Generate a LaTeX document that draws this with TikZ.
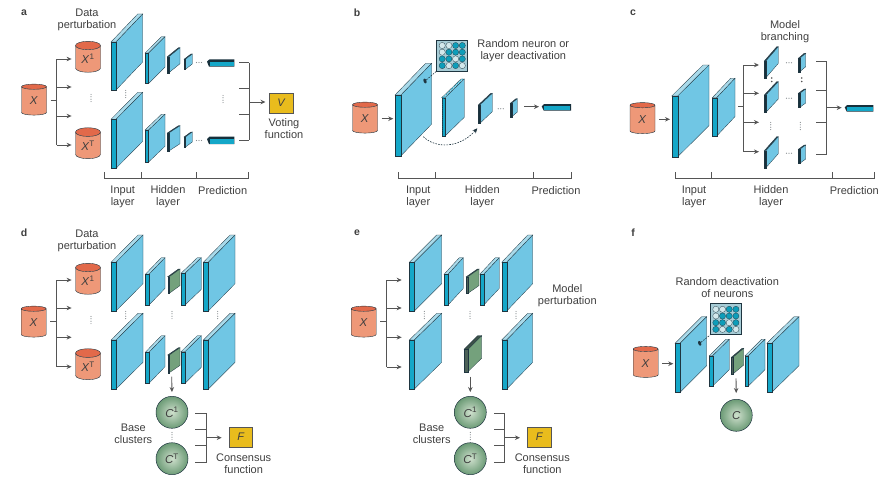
\documentclass[tikz,border=0pt]{standalone}
\usepackage{fontspec}
\setmainfont{Liberation Sans}
\usepackage{xcolor}
\usetikzlibrary{arrows.meta,calc,shapes.geometric}

\definecolor{textgrey}{HTML}{3F3F3F}
\definecolor{linegrey}{HTML}{555555}
\definecolor{dotgrey}{HTML}{8A8F92}
\definecolor{edgeink}{HTML}{1F3540}
\definecolor{blueface}{HTML}{70C6E4}
\definecolor{bluestrip}{HTML}{14A7C8}
\definecolor{bluetop}{HTML}{A9DAEA}
\definecolor{darkface}{HTML}{70C6E4}
\definecolor{darkstrip}{HTML}{16303C}
\definecolor{darktop}{HTML}{26414E}
\definecolor{greenface}{HTML}{74A17C}
\definecolor{greenstrip}{HTML}{4C6157}
\definecolor{greentop}{HTML}{3C5148}
\definecolor{clustpale}{HTML}{CFE0CD}
\definecolor{clustedge}{HTML}{6C9B76}
\definecolor{cylbody}{HTML}{EE9878}
\definecolor{cyltop}{HTML}{E2694A}
\definecolor{boxyellow}{HTML}{E9BC1D}
\definecolor{patchbg}{HTML}{A6CCD6}
\definecolor{patchpale}{HTML}{D3E8EC}
\definecolor{patchdark}{HTML}{0E9DB9}

% colour, x, y, right x, right y, height, strip width
\newcommand{\cnnlayer}[7][blue]{%
	\filldraw[layeredge, fill=#1top] (#2,#3) -- ({#4-#7},#5) -- (#4,#5) -- ({#2+#7},#3) -- cycle;
	\filldraw[layeredge, fill=#1face] ({#2+#7},#3) -- (#4,#5) -- (#4,{#5+#6}) -- ({#2+#7},{#3+#6}) -- cycle;
	\filldraw[layeredge, fill=#1strip] (#2,#3) -- ({#2+#7},#3) -- ({#2+#7},{#3+#6}) -- (#2,{#3+#6}) -- cycle;
}
\newcommand{\predbar}[4]{%
	\fill[darkstrip] (#1,{#2+2.3}) -- ({#1+2.5},#2) -- ({#1+#3},#2) -- ({#1+#3},{#2+#4}) -- ({#1+2},{#2+#4}) -- cycle;
	\fill[bluestrip] ({#1+2.5},{#2+2.2}) rectangle ({#1+#3-.6},{#2+#4-.6});
}
\newcommand{\hellip}[2]{%
	\foreach \dx in {-2.5,0,2.5} \fill[dotgrey] ({#1+\dx},#2) circle (.6);
}
\newcommand{\vellip}[2]{%
	\foreach \dy in {-3.6,-1.2,1.2,3.6} \fill[dotgrey] (#1,{#2+\dy}) circle (.6);
}
\newcommand{\bracketline}[4]{%
	\draw[conn] (#1,172) -- (#1,178.3) -- (#4,178.3) -- (#4,172);
	\draw[conn] (#2,172) -- (#2,178.3) (#3,172) -- (#3,178.3);
}
% prefix, source, bus x, stub y, four y, tip x
\newcommand{\fantree}[9]{%
	\coordinate (#1-j) at (#3,#4);
	\draw[conn, shorten <=4pt] (#2.east |- #1-j) -- (#1-j);
	\draw[conn] (#3,#5) -- (#3,#8);
	\foreach \n/\yy in {1/#5,2/#6,3/#7,4/#8} {
		\coordinate (#1-s\n) at (#3,\yy);
		\coordinate (#1-t\n) at (#9,\yy);
		\draw[conn, ->] (#1-s\n) -- (#1-t\n);
	}
}
% prefix, stub x, bus x, four y, out y, tip coordinate
\newcommand{\mergetree}[9]{%
	\foreach \n/\yy in {1/#4,2/#5,3/#6,4/#7} {
		\coordinate (#1-s\n) at (#2,\yy);
		\coordinate (#1-v\n) at (#3,\yy);
		\draw[conn] (#1-s\n) -- (#1-v\n);
	}
	\draw[conn] (#1-v1) -- (#1-v4);
	\coordinate (#1-j) at (#3,#8);
	\draw[conn, ->] (#1-j) -- (#9);
}
\newcommand{\neuronpatch}[3]{%
	\node[patch] (#1) at (#2,#3) {};
	\foreach \col/\row/\clr in {0/0/patchpale,1/0/patchpale,2/0/patchdark,3/0/patchdark,
		0/1/patchpale,1/1/patchdark,2/1/patchdark,3/1/patchdark,
		0/2/patchdark,1/2/patchdark,2/2/patchpale,3/2/patchdark,
		0/3/patchdark,1/3/patchpale,2/3/patchdark,3/3/patchpale} {
		\filldraw[draw=edgeink, line width=.25pt, fill=\clr] ({#2-10+6.7*\col},{#3-10+6.7*\row}) circle (3.1);
	}
}

\begin{document}
\begin{tikzpicture}[x=1pt, y=-1pt, >={Stealth[length=5pt,width=4.5pt]}]
	\tikzstyle{lbl}=[font=\fontsize{11}{12}\selectfont, align=center, text=textgrey, inner sep=0pt]
	\tikzstyle{tag}=[font=\fontsize{10.5}{12}\selectfont\bfseries, text=textgrey, inner sep=0pt]
	\tikzstyle{conn}=[draw=linegrey, line width=.9pt]
	\tikzstyle{layeredge}=[draw=edgeink, line width=.3pt]
	\tikzstyle{cyl}=[cylinder, shape border rotate=90, aspect=.65, minimum width=25pt, minimum height=31pt, inner sep=0pt,
		draw=edgeink, line width=.4pt, cylinder uses custom fill, cylinder body fill=cylbody, cylinder end fill=cyltop,
		font=\fontsize{11.5}{12}\selectfont, text=textgrey]
	\tikzstyle{clust}=[circle, minimum size=32pt, inner sep=0pt, draw=edgeink, line width=.5pt,
		inner color=clustpale, outer color=clustedge, font=\fontsize{11.5}{12}\selectfont, text=textgrey]
	\tikzstyle{fnbox}=[rectangle, inner sep=0pt, draw=linegrey, line width=.8pt, fill=boxyellow,
		font=\fontsize{11}{12}\selectfont\itshape, text=textgrey]
	\tikzstyle{patch}=[rectangle, minimum size=31pt, inner sep=0pt, draw=edgeink, line width=.7pt, fill=patchbg]
	\tikzstyle{neuron}=[ellipse, minimum width=3pt, minimum height=5pt, inner sep=0pt, fill=edgeink, rotate=20]
	\tikzstyle{dropline}=[draw=edgeink, line width=.6pt, dash pattern=on 1.6pt off 1.2pt]

	\useasboundingbox (0,0) rectangle (893,503);

	\node[tag] (a-tag) at (24,13) {a};
	\node[tag] (b-tag) at (357,13) {b};
	\node[tag] (c-tag) at (633,13) {c};
	\node[tag] (d-tag) at (24,233) {d};
	\node[tag] (e-tag) at (357,233) {e};
	\node[tag] (f-tag) at (633,233) {f};

	\node[lbl] (a-data) at (87,20) {Data\\perturbation};
	\node[cyl] (a-x) at (34,101) {\textit{X}};
	\node[cyl] (a-x1) at (88,59) {\textit{X}\textsuperscript{1}};
	\node[cyl] (a-xt) at (88,145.5) {\textit{X}\textsuperscript{T}};
	\fantree{a-f}{a-x}{56.7}{100}{59}{87}{116}{145}{71.6}
	\vellip{91}{98}
	\cnnlayer{111}{42}{142.7}{14}{48}{5}
	\cnnlayer{145}{53}{165}{36.7}{30.5}{3.6}
	\cnnlayer[dark]{167.3}{56.7}{180}{47.7}{16}{1.6}
	\cnnlayer[dark]{184}{59.3}{192.3}{54}{10}{1.4}
	\hellip{199}{62.5}
	\predbar{207}{59.3}{27.3}{7.4}
	\vellip{125.7}{94}
	\cnnlayer{111}{119.3}{142.7}{92.3}{49}{5}
	\cnnlayer{145}{130}{165}{114.3}{32}{3.6}
	\cnnlayer[dark]{167.3}{133}{180}{125.7}{18}{1.6}
	\cnnlayer[dark]{184}{137}{192.3}{132}{10}{1.4}
	\hellip{199}{140.5}
	\predbar{207}{136.7}{27.3}{7.4}
	\vellip{223}{99}
	\node[fnbox, minimum width=24pt, minimum height=20pt] (a-v) at (281,103) {V};
	\coordinate (a-vin) at (265.5,102);
	\mergetree{a-m}{239}{249}{62.7}{88}{114.3}{140}{102}{a-vin}
	\node[lbl] (a-vote) at (284,129) {Voting\\function};
	\bracketline{104}{141}{196}{248}
	\node[lbl] (a-input) at (122.7,197) {Input\\layer};
	\node[lbl] (a-hidden) at (168,197) {Hidden\\layer};
	\node[lbl] (a-pred) at (222.7,191) {Prediction};

	\node[cyl] (b-x) at (365,119) {\textit{X}};
	\coordinate (b-in) at (393.3,118.7);
	\draw[conn, ->, shorten <=4pt] (b-x.east |- b-in) -- (b-in);
	\cnnlayer{395}{95}{431.7}{63.3}{60.7}{6}
	\node[neuron] (b-n) at (425,81) {};
	\neuronpatch{b-patch}{452.2}{55.5}
	\draw[dropline] (b-n) -- (b-patch.south west);
	\node[lbl] (b-drop) at (523.3,51) {Random neuron or\\layer deactivation};
	\cnnlayer{441.7}{97.7}{464.3}{79}{38.3}{3.3}
	\draw[bluestrip, line width=1.6pt, line cap=round, dash pattern=on 0pt off 2.2pt] (443.3,97.7) -- (443.3,136);
	\draw[bluestrip, line width=1.3pt, line cap=round, dash pattern=on 0pt off 2.2pt] (443.3,97.7) -- (462.5,79);
	\cnnlayer[dark]{478.3}{105}{492.3}{93.3}{18.3}{1.6}
	\hellip{500.7}{108.7}
	\cnnlayer[dark]{510.3}{103.3}{517.3}{98.7}{13.4}{1.4}
	\coordinate (b-barin) at (539,106.7);
	\coordinate (b-hid) at (524,106.7);
	\draw[conn, ->] (b-hid) -- (b-barin);
	\predbar{541.7}{104}{29.3}{6.7}
	\coordinate (b-skipa) at (423.3,136.7);
	\coordinate (b-skipb) at (477.3,128.3);
	\draw[dropline, ->] (b-skipa) .. controls (436,149) and (460,148) .. (b-skipb);
	\bracketline{398.3}{435.3}{533.3}{571.7}
	\node[lbl] (b-input) at (418.3,197) {Input\\layer};
	\node[lbl] (b-hidden) at (482.3,197) {Hidden\\layer};
	\node[lbl] (b-pred) at (556,191) {Prediction};

	\node[lbl] (c-branch) at (785,32) {Model\\branching};
	\node[cyl] (c-x) at (642.5,119.5) {\textit{X}};
	\coordinate (c-in) at (670,119.3);
	\draw[conn, ->, shorten <=4pt] (c-x.east |- c-in) -- (c-in);
	\cnnlayer{671.7}{96}{709}{65}{60.7}{6}
	\cnnlayer{712.3}{97.7}{735}{78.3}{38.3}{4.4}
	\coordinate (c-l2) at (738.3,106);
	\coordinate (c-j) at (743.3,106);
	\draw[conn] (c-l2) -- (c-j);
	\coordinate (c-t1) at (759,65);
	\coordinate (c-t2) at (759,93.3);
	\coordinate (c-t3) at (759,122.3);
	\coordinate (c-t4) at (759,151.7);
	\draw[conn, ->] (c-j |- c-t1) -- (c-t1);
	\draw[conn, ->] (c-j |- c-t2) -- (c-t2);
	\draw[conn, ->] (c-j |- c-t3) -- (c-t3);
	\draw[conn, ->] (c-j |- c-t4) -- (c-t4);
	\draw[conn] (c-j |- c-t1) -- (c-j |- c-t4);
	\cnnlayer[dark]{764.3}{61}{778.3}{46.7}{16.7}{1.6}
	\cnnlayer[dark]{764.3}{95}{778.3}{81.7}{17.3}{1.6}
	\cnnlayer[dark]{764.3}{150.7}{778.3}{136.7}{17}{1.6}
	\cnnlayer[dark]{798.3}{58.3}{805.7}{53.3}{13.4}{1.5}
	\cnnlayer[dark]{798.3}{93.3}{805.7}{89}{14}{1.5}
	\cnnlayer[dark]{798.3}{149.3}{805.7}{145}{14}{1.5}
	\hellip{789}{62.7}
	\hellip{789}{98.3}
	\hellip{789}{153.3}
	\vellip{770.7}{126}
	\vellip{800.3}{126}
	\foreach \xx in {771.7,801.7} {
		\fill[linegrey] (\xx,78) circle (.8);
		\fill[linegrey] (\xx,81.5) circle (.8);
	}
	\coordinate (c-barin) at (841.7,107.7);
	\mergetree{c-m}{816}{826.7}{61}{90.7}{122.7}{154}{107.7}{c-barin}
	\predbar{844.7}{105}{28.6}{6.7}
	\bracketline{675}{711.7}{832.7}{874}
	\node[lbl] (c-input) at (694,197) {Input\\layer};
	\node[lbl] (c-hidden) at (771,197) {Hidden\\layer};
	\node[lbl] (c-pred) at (854.3,191) {Prediction};

	\node[lbl] (d-data) at (87,241) {Data\\perturbation};
	\node[cyl] (d-x) at (33.7,323) {\textit{X}};
	\node[cyl] (d-x1) at (88,281) {\textit{X}\textsuperscript{1}};
	\node[cyl] (d-xt) at (88,366.5) {\textit{X}\textsuperscript{T}};
	\fantree{d-f}{d-x}{56.7}{321.7}{280}{308}{337.3}{366.7}{71.6}
	\vellip{91}{320}
	\cnnlayer{111}{262.3}{143}{235}{48.7}{5}
	\cnnlayer{145.3}{274.3}{165}{257.7}{30.7}{3.7}
	\cnnlayer[green]{167.7}{276.7}{180}{269}{16.6}{1.6}
	\cnnlayer{181}{273.3}{201.3}{257.7}{31.7}{4}
	\cnnlayer{203.3}{262.3}{235}{235}{48.7}{5}
	\vellip{125.7}{315}
	\vellip{172}{315}
	\vellip{217.7}{315}
	\cnnlayer{111}{340}{143}{313.3}{49}{5}
	\cnnlayer{145.3}{352.3}{165}{335.7}{31}{3.7}
	\cnnlayer[green]{167.7}{355}{180}{347.7}{17.7}{1.6}
	\cnnlayer{181}{351.7}{201.3}{335.7}{31.6}{4}
	\cnnlayer{203.3}{340}{235}{313.3}{49}{5}
	\node[clust] (d-c1) at (172,412.3) {\textit{C}\textsuperscript{1}};
	\node[clust] (d-ct) at (172,458.7) {\textit{C}\textsuperscript{T}};
	\coordinate (d-gout) at (171.7,376.7);
	\draw[conn, ->, shorten >=4pt] (d-gout) -- (d-c1.north);
	\vellip{172}{436}
	\node[lbl] (d-base) at (133.3,434) {Base\\clusters};
	\node[fnbox, minimum width=23.5pt, minimum height=20pt] (d-func) at (240.7,437) {F};
	\coordinate (d-fin) at (221.7,437.7);
	\mergetree{d-m}{195}{206.7}{413.3}{429.7}{445}{462.3}{437.7}{d-fin}
	\node[lbl] (d-cons) at (243.7,463.3) {Consensus\\function};

	\node[cyl] (e-x) at (363.7,323) {\textit{X}};
	\fantree{e-f}{e-x}{386.7}{321.7}{280}{308}{337.3}{367}{401.7}
	\cnnlayer{409.3}{262.3}{441.7}{235}{48.7}{5}
	\cnnlayer{444}{274.3}{463.3}{257.7}{30.7}{4}
	\cnnlayer[green]{466.3}{276.7}{479}{269}{16.6}{1.6}
	\cnnlayer{479.7}{274.3}{499.3}{257.7}{30.7}{4}
	\cnnlayer{501.7}{262.3}{532.7}{235}{48.7}{5}
	\vellip{424.3}{315}
	\vellip{470}{315}
	\vellip{516}{315}
	\cnnlayer{409.3}{340}{441.7}{313.3}{49}{5}
	\cnnlayer[green]{464}{349.3}{481.7}{335.7}{22.4}{4}
	\cnnlayer{501.7}{340}{532.7}{313.3}{49}{5}
	\node[lbl] (e-model) at (567.3,295.5) {Model\\perturbation};
	\node[clust] (e-c1) at (470.3,412.3) {\textit{C}\textsuperscript{1}};
	\node[clust] (e-ct) at (470.3,458.7) {\textit{C}\textsuperscript{T}};
	\coordinate (e-gout) at (470.3,376.7);
	\draw[conn, ->, shorten >=4pt] (e-gout) -- (e-c1.north);
	\vellip{470.3}{436}
	\node[lbl] (e-base) at (431.7,434) {Base\\clusters};
	\node[fnbox, minimum width=23.5pt, minimum height=20pt] (e-func) at (539.3,437) {F};
	\coordinate (e-fin) at (520,437.7);
	\mergetree{e-m}{494}{504.7}{413.3}{429.7}{445}{462.3}{437.7}{e-fin}
	\node[lbl] (e-cons) at (542.3,463.3) {Consensus\\function};

	\node[lbl] (f-drop) at (727.3,288) {Random deactivation\\of neurons};
	\node[cyl] (f-x) at (645.7,363.3) {\textit{X}};
	\coordinate (f-in) at (673.3,363.7);
	\draw[conn, ->, shorten <=4pt] (f-x.east |- f-in) -- (f-in);
	\cnnlayer{675}{343.3}{706.7}{316.7}{49}{5}
	\node[neuron] (f-n) at (699.7,343.3) {};
	\neuronpatch{f-patch}{725.8}{319.3}
	\draw[dropline] (f-n) -- (f-patch.south west);
	\cnnlayer{709.3}{355.7}{729.3}{339.3}{30.3}{3.4}
	\cnnlayer[green]{731.3}{357.3}{743.7}{348.3}{16.7}{1.6}
	\cnnlayer{745}{355.7}{765}{339.3}{30.3}{3.4}
	\cnnlayer{766.7}{343.3}{799}{316.7}{49}{5}
	\node[clust] (f-c) at (736.3,415.3) {\textit{C}};
	\coordinate (f-gout) at (736,378.3);
	\draw[conn, ->, shorten >=6pt] (f-gout) -- (f-c.north);
\end{tikzpicture}
\end{document}
